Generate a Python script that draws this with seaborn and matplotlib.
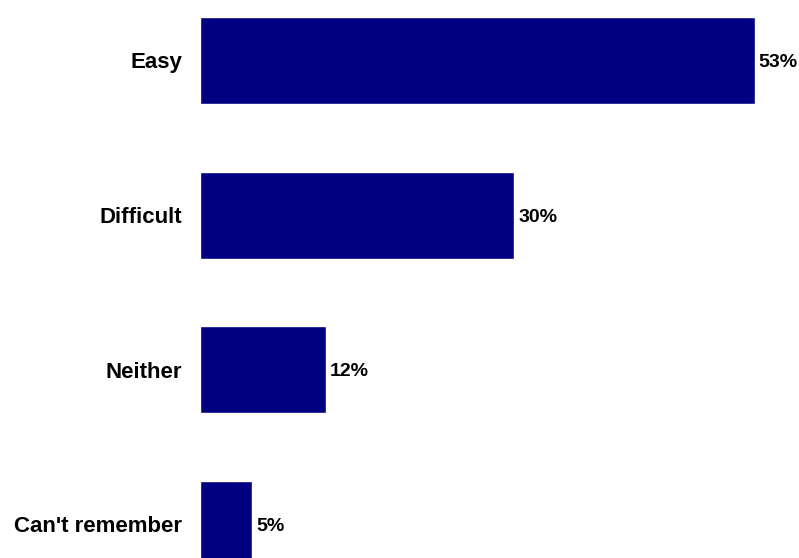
import matplotlib
matplotlib.use("Agg")
import matplotlib.pyplot as plt
import seaborn as sns
import pandas as pd

categories = ["Easy", "Difficult", "Neither", "Can't remember"]
values = [53, 30, 12, 5]
value_labels = ["53%", "30%", "12%", "5%"]

sns.set_theme(style="white")
plt.rcParams["font.family"] = ["Liberation Sans", "DejaVu Sans"]

df = pd.DataFrame({"category": categories, "value": values})

fig = plt.figure(figsize=(7.99, 5.58), dpi=100)
ax = fig.add_axes([200 / 799, 0, 607 / 799, 1])

sns.barplot(data=df, y="category", x="value", orient="h", color="#000080",
            saturation=1, width=0.5625, ax=ax)

ax.set_xlim(0, 58)
ax.set_ylim(3.217, -0.391)
ax.set_xlabel("")
ax.set_ylabel("")
ax.set_xticks([])
for s in ax.spines.values():
    s.set_visible(False)
ax.tick_params(axis="y", length=0, pad=13)
for lbl in ax.get_yticklabels():
    lbl.set_fontweight("bold")
    lbl.set_fontsize(16)
    lbl.set_color("black")

for i, (v, t) in enumerate(zip(values, value_labels)):
    ax.annotate(t, xy=(v, i), xytext=(3, -1.5), textcoords="offset points",
                ha="left", va="center", fontsize=14, fontweight="bold",
                color="black")

fig.savefig("out.png", dpi=100)
